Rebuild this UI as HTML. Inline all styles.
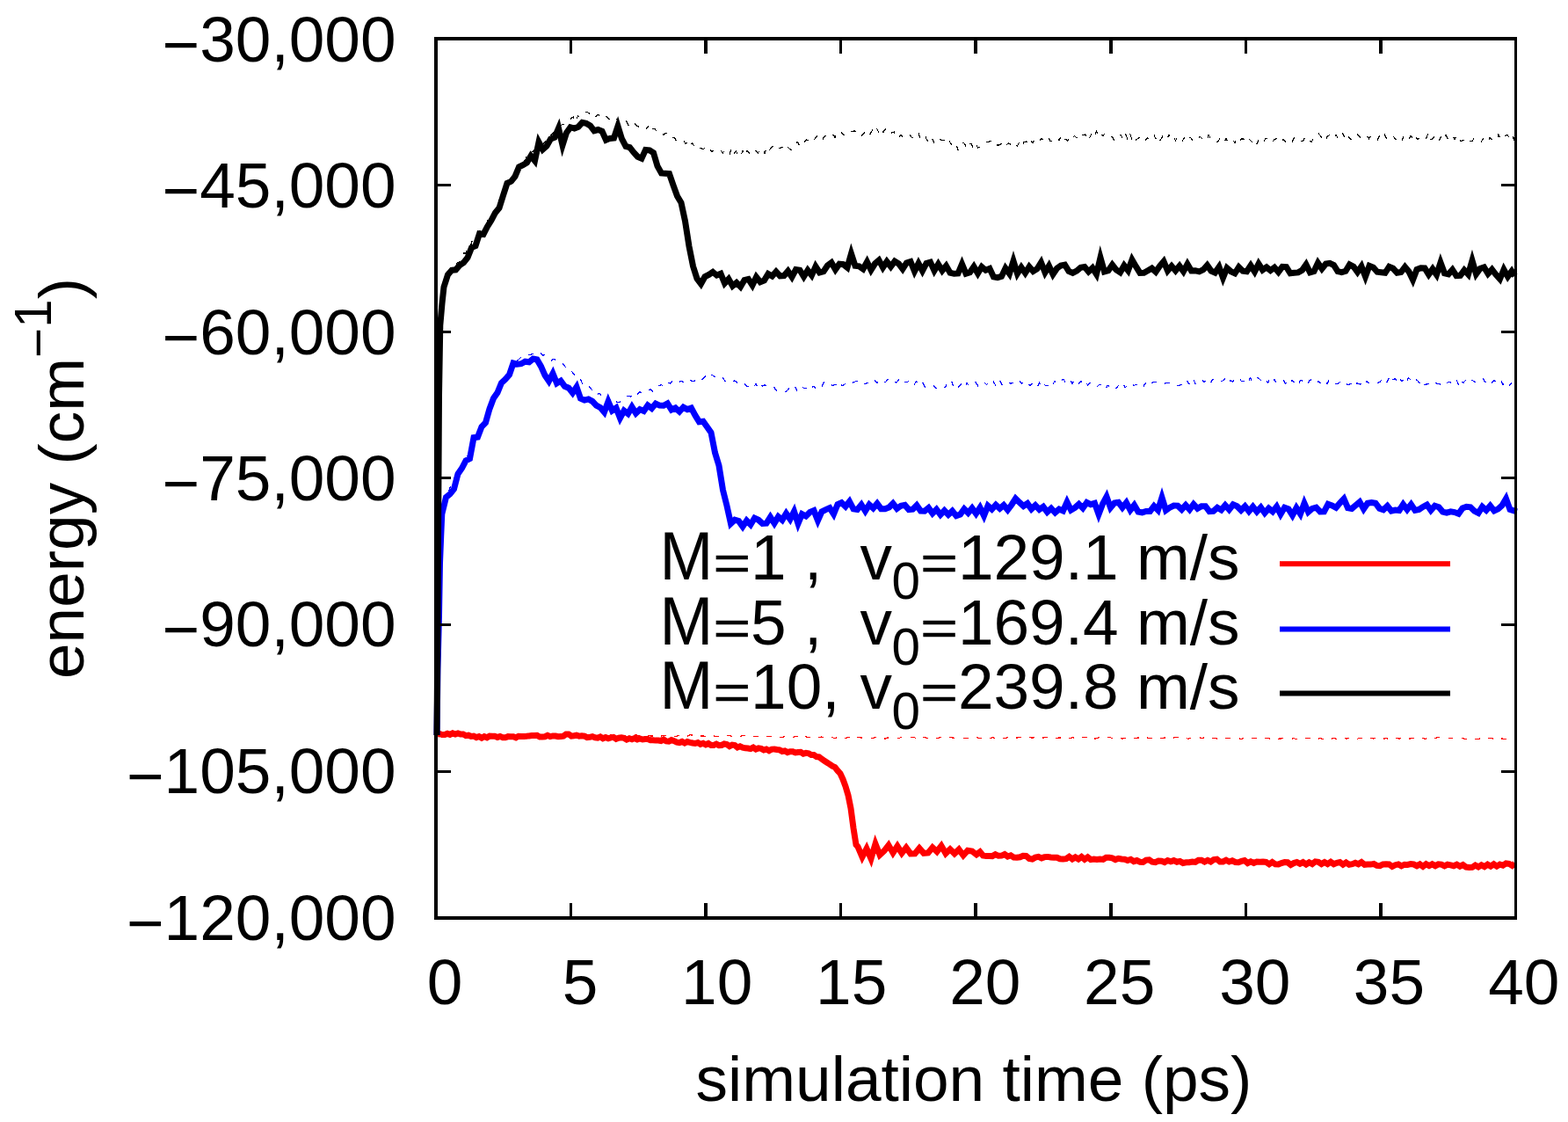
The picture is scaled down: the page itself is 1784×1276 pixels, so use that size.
<!DOCTYPE html>
<html><head><meta charset="utf-8"><title>energy vs simulation time</title><style>html,body{margin:0;padding:0;background:#fff;}svg{display:block;}</style></head><body>
<svg width="1784" height="1276" viewBox="0 0 1784 1276">
<rect width="1784" height="1276" fill="#fff"/>
<path d="M497.0 836.0 L500.0 836.0 L503.0 835.9 L506.0 836.6 L509.0 836.1 L512.0 836.1 L515.0 837.1 L518.0 836.7 L521.0 835.9 L524.0 836.7 L527.0 836.9 L530.0 836.0 L533.0 836.4 L536.0 835.6 L539.0 836.7 L542.0 835.4 L545.0 835.9 L548.0 836.7 L551.0 835.8 L554.0 835.8 L557.0 837.0 L560.0 836.4 L563.0 837.3 L566.0 836.5 L569.0 836.9 L572.0 836.2 L575.0 837.5 L578.0 836.3 L581.0 837.6 L584.0 836.6 L587.0 836.4 L590.0 836.5 L593.0 837.5 L596.0 836.2 L599.0 836.5 L602.0 836.6 L605.0 837.7 L608.0 836.6 L611.0 836.8 L614.0 836.7 L617.0 836.5 L620.0 836.3 L623.0 836.6 L626.0 837.5 L629.0 836.6 L632.0 837.4 L635.0 836.9 L638.0 836.5 L641.0 836.5 L644.0 837.2 L647.0 836.7 L650.0 837.3 L653.0 836.5 L656.0 837.1 L659.0 836.2 L662.0 837.0 L665.0 836.2 L668.0 837.0 L671.0 836.3 L674.0 836.4 L677.0 837.2 L680.0 836.3 L683.0 836.2 L686.0 836.9 L689.0 836.0 L692.0 837.1 L695.0 835.9 L698.0 837.0 L701.0 836.9 L704.0 835.9 L707.0 837.2 L710.0 836.5 L713.0 837.3 L716.0 836.2 L719.0 837.0 L722.0 836.0 L725.0 836.1 L728.0 836.9 L731.0 835.9 L734.0 837.1 L737.0 836.0 L740.0 836.9 L743.0 836.9 L746.0 837.2 L749.0 836.1 L752.0 837.0 L755.0 836.4 L758.0 836.2 L761.0 836.6 L764.0 837.2 L767.0 837.4 L770.0 837.3 L773.0 836.1 L776.0 837.1 L779.0 836.2 L782.0 837.2 L785.0 835.8 L788.0 836.1 L791.0 836.5 L794.0 837.1 L797.0 836.9 L800.0 837.0 L803.0 837.6 L806.0 836.9 L809.0 838.1 L812.0 836.9 L815.0 837.9 L818.0 837.0 L821.0 837.9 L824.0 836.8 L827.0 836.6 L830.0 836.5 L833.0 837.3 L836.0 836.5 L839.0 836.6 L842.0 837.7 L845.0 836.5 L848.0 836.9 L851.0 836.7 L854.0 837.1 L857.0 837.8 L860.0 837.1 L863.0 837.9 L866.0 837.4 L869.0 838.2 L872.0 837.8 L875.0 837.5 L878.0 837.3 L881.0 838.8 L884.0 837.6 L887.0 838.6 L890.0 838.8 L893.0 837.4 L896.0 838.6 L899.0 837.7 L902.0 838.4 L905.0 837.6 L908.0 838.1 L911.0 837.4 L914.0 838.8 L917.0 838.0 L920.0 838.7 L923.0 837.7 L926.0 838.6 L929.0 837.7 L932.0 838.7 L935.0 838.0 L938.0 839.3 L941.0 838.2 L944.0 838.5 L947.0 838.7 L950.0 839.7 L953.0 838.4 L956.0 839.3 L959.0 838.5 L962.0 839.5 L965.0 838.3 L968.0 839.5 L971.0 838.4 L974.0 839.5 L977.0 838.7 L980.0 839.0 L983.0 839.4 L986.0 840.0 L989.0 838.9 L992.0 839.6 L995.0 838.8 L998.0 838.8 L1001.0 839.8 L1004.0 839.1 L1007.0 840.2 L1010.0 838.8 L1013.0 839.8 L1016.0 839.1 L1019.0 839.6 L1022.0 839.6 L1025.0 838.7 L1028.0 838.9 L1031.0 838.5 L1034.0 839.1 L1037.0 838.4 L1040.0 838.7 L1043.0 839.6 L1046.0 838.5 L1049.0 839.5 L1052.0 838.6 L1055.0 839.6 L1058.0 838.7 L1061.0 839.3 L1064.0 838.5 L1067.0 839.5 L1070.0 838.6 L1073.0 838.7 L1076.0 839.8 L1079.0 838.8 L1082.0 838.6 L1085.0 839.2 L1088.0 839.2 L1091.0 839.2 L1094.0 838.6 L1097.0 839.8 L1100.0 839.2 L1103.0 839.8 L1106.0 839.0 L1109.0 839.4 L1112.0 838.8 L1115.0 839.5 L1118.0 839.5 L1121.0 838.5 L1124.0 839.3 L1127.0 839.2 L1130.0 838.8 L1133.0 839.7 L1136.0 838.6 L1139.0 839.8 L1142.0 839.3 L1145.0 839.2 L1148.0 838.5 L1151.0 839.1 L1154.0 838.5 L1157.0 839.0 L1160.0 838.5 L1163.0 839.2 L1166.0 838.4 L1169.0 839.3 L1172.0 838.7 L1175.0 839.2 L1178.0 838.6 L1181.0 839.1 L1184.0 838.2 L1187.0 839.2 L1190.0 838.0 L1193.0 839.1 L1196.0 838.3 L1199.0 839.4 L1202.0 839.4 L1205.0 838.9 L1208.0 839.0 L1211.0 839.9 L1214.0 838.6 L1217.0 839.8 L1220.0 838.7 L1223.0 839.3 L1226.0 839.2 L1229.0 838.2 L1232.0 839.0 L1235.0 838.1 L1238.0 839.7 L1241.0 838.7 L1244.0 839.9 L1247.0 839.9 L1250.0 838.7 L1253.0 839.5 L1256.0 838.5 L1259.0 839.0 L1262.0 838.3 L1265.0 839.4 L1268.0 839.5 L1271.0 839.8 L1274.0 838.7 L1277.0 840.1 L1280.0 839.2 L1283.0 840.1 L1286.0 839.3 L1289.0 839.2 L1292.0 839.5 L1295.0 838.8 L1298.0 839.9 L1301.0 838.9 L1304.0 838.8 L1307.0 839.4 L1310.0 839.5 L1313.0 838.8 L1316.0 839.8 L1319.0 838.9 L1322.0 839.8 L1325.0 838.8 L1328.0 839.9 L1331.0 838.5 L1334.0 839.6 L1337.0 838.4 L1340.0 838.8 L1343.0 839.8 L1346.0 839.1 L1349.0 839.4 L1352.0 840.3 L1355.0 839.1 L1358.0 840.0 L1361.0 839.4 L1364.0 838.5 L1367.0 839.6 L1370.0 839.0 L1373.0 839.6 L1376.0 839.0 L1379.0 840.0 L1382.0 839.1 L1385.0 840.3 L1388.0 840.4 L1391.0 840.2 L1394.0 839.0 L1397.0 839.8 L1400.0 839.2 L1403.0 839.8 L1406.0 839.3 L1409.0 839.3 L1412.0 840.5 L1415.0 839.4 L1418.0 840.0 L1421.0 838.8 L1424.0 839.8 L1427.0 839.0 L1430.0 839.8 L1433.0 839.3 L1436.0 840.2 L1439.0 839.6 L1442.0 839.3 L1445.0 840.3 L1448.0 839.7 L1451.0 840.6 L1454.0 840.2 L1457.0 840.0 L1460.0 839.5 L1463.0 840.3 L1466.0 840.3 L1469.0 840.2 L1472.0 839.7 L1475.0 840.6 L1478.0 839.4 L1481.0 840.0 L1484.0 840.2 L1487.0 839.2 L1490.0 839.6 L1493.0 840.5 L1496.0 839.5 L1499.0 840.2 L1502.0 839.6 L1505.0 840.5 L1508.0 839.7 L1511.0 839.5 L1514.0 840.4 L1517.0 839.4 L1520.0 840.2 L1523.0 839.0 L1526.0 840.0 L1529.0 839.3 L1532.0 840.2 L1535.0 839.1 L1538.0 840.5 L1541.0 839.4 L1544.0 840.4 L1547.0 839.3 L1550.0 840.0 L1553.0 839.1 L1556.0 840.2 L1559.0 839.0 L1562.0 840.0 L1565.0 839.7 L1568.0 838.7 L1571.0 840.1 L1574.0 840.2 L1577.0 839.6 L1580.0 840.5 L1583.0 839.2 L1586.0 840.1 L1589.0 839.0 L1592.0 840.2 L1595.0 839.0 L1598.0 840.3 L1601.0 839.2 L1604.0 840.1 L1607.0 839.5 L1610.0 840.2 L1613.0 839.5 L1616.0 840.8 L1619.0 839.6 L1622.0 840.3 L1625.0 839.0 L1628.0 840.1 L1631.0 839.9 L1634.0 839.0 L1637.0 838.8 L1640.0 838.9 L1643.0 840.1 L1646.0 839.3 L1649.0 839.7 L1652.0 839.3 L1655.0 839.3 L1658.0 839.1 L1661.0 840.1 L1664.0 839.5 L1667.0 840.3 L1670.0 840.1 L1673.0 839.5 L1676.0 840.4 L1679.0 840.5 L1682.0 840.3 L1685.0 839.5 L1688.0 840.4 L1691.0 840.2 L1694.0 839.2 L1697.0 839.3 L1700.0 840.6 L1703.0 840.2 L1706.0 840.5 L1709.0 839.9 L1712.0 840.5 L1715.0 840.6 L1718.0 839.5 L1721.0 840.3 L1723.5 839.5" fill="none" stroke="#f00" stroke-width="1.2" stroke-dasharray="6 9.5" shape-rendering="crispEdges"/>
<path d="M497.0 836.0 L498.0 700.0 L500.5 620.0 L503.0 580.0 L505.0 573.3 L507.5 567.4 L510.0 560.2 L512.5 552.7 L515.0 550.4 L517.5 541.6 L520.0 536.4 L522.5 532.4 L525.0 530.8 L527.5 524.6 L530.0 523.6 L532.5 517.5 L535.0 509.8 L537.5 505.9 L540.0 497.7 L542.5 495.5 L545.0 491.7 L547.5 487.0 L550.0 482.8 L552.5 477.4 L555.0 469.8 L557.5 466.8 L560.0 461.5 L562.5 452.7 L565.0 447.4 L567.5 442.2 L570.0 436.7 L572.5 435.9 L575.0 430.4 L577.5 427.5 L580.0 421.7 L582.5 417.5 L585.0 415.3 L587.5 411.3 L590.0 408.9 L592.5 406.7 L595.0 407.3 L597.5 405.6 L600.0 404.1 L602.5 403.3 L605.0 402.9 L607.5 402.7 L610.0 403.2 L612.5 404.2 L615.0 401.8 L617.5 404.2 L620.0 403.7 L622.5 404.8 L625.0 408.5 L627.5 409.9 L630.0 407.9 L632.5 410.1 L635.0 412.9 L637.5 413.9 L640.0 413.3 L642.5 416.1 L645.0 420.4 L647.5 422.4 L650.0 421.6 L652.5 425.0 L655.0 427.0 L657.5 431.8 L660.0 430.5 L662.5 436.2 L665.0 435.7 L667.5 439.6 L670.0 438.9 L672.5 442.3 L675.0 445.9 L677.5 444.4 L680.0 448.1 L682.5 447.2 L685.0 452.1 L687.5 453.1 L690.0 454.3 L692.5 451.9 L695.0 456.4 L697.5 453.6 L700.0 454.8 L702.5 457.8 L705.0 457.2 L707.5 455.6 L710.0 453.0 L712.5 451.7 L715.0 450.1 L717.5 451.0 L720.0 449.3 L722.5 446.2 L725.0 448.8 L727.5 445.7 L730.0 446.5 L732.5 447.0 L735.0 446.4 L737.5 445.0 L740.0 442.5 L742.5 445.0 L745.0 444.0 L747.5 439.6 L750.0 438.6 L752.5 437.5 L755.0 440.2 L757.5 435.9 L760.0 434.8 L762.5 436.2 L765.0 433.5 L767.5 432.8 L770.0 435.4 L772.5 434.8 L775.0 433.1 L777.5 434.6 L780.0 434.3 L782.5 430.6 L785.0 431.4 L787.5 433.8 L790.0 433.3 L792.5 432.0 L795.0 429.6 L797.5 431.8 L800.0 430.9 L802.5 427.8 L805.0 429.9 L807.5 426.1 L810.0 426.5 L812.5 427.7 L815.0 430.1 L817.5 429.6 L820.0 431.4 L822.5 429.4 L825.0 433.9 L827.5 434.3 L830.0 435.2 L832.5 435.4 L835.0 432.9 L837.5 433.8 L840.0 436.5 L842.5 437.6 L845.0 436.1 L847.5 436.6 L850.0 439.6 L852.5 439.5 L855.0 437.6 L857.5 440.8 L860.0 436.4 L862.5 442.0 L865.0 438.1 L867.5 438.9 L870.0 437.9 L872.5 438.6 L875.0 438.2 L877.5 437.7 L880.0 438.4 L882.5 443.7 L885.0 444.3 L887.5 444.7 L890.0 445.6 L892.5 445.2 L895.0 445.0 L897.5 442.3 L900.0 445.1 L902.5 442.1 L905.0 440.6 L907.5 445.9 L910.0 442.4 L912.5 439.5 L915.0 441.8 L917.5 441.5 L920.0 440.9 L922.5 444.1 L925.0 439.1 L927.5 440.8 L930.0 437.3 L932.5 440.0 L935.0 439.4 L937.5 434.6 L940.0 437.6 L942.5 438.6 L945.0 437.7 L947.5 438.2 L950.0 437.4 L952.5 438.6 L955.0 434.5 L957.5 438.3 L960.0 438.0 L962.5 435.7 L965.0 433.9 L967.5 434.3 L970.0 435.4 L972.5 434.2 L975.0 433.3 L977.5 434.8 L980.0 437.9 L982.5 436.1 L985.0 436.2 L987.5 435.6 L990.0 432.5 L992.5 434.3 L995.0 431.8 L997.5 435.5 L1000.0 434.3 L1002.5 431.5 L1005.0 432.5 L1007.5 434.6 L1010.0 431.7 L1012.5 431.1 L1015.0 434.5 L1017.5 433.8 L1020.0 435.1 L1022.5 432.2 L1025.0 435.9 L1027.5 432.8 L1030.0 434.8 L1032.5 434.7 L1035.0 432.0 L1037.5 437.0 L1040.0 437.3 L1042.5 433.8 L1045.0 437.3 L1047.5 438.7 L1050.0 435.6 L1052.5 440.1 L1055.0 440.8 L1057.5 439.4 L1060.0 438.8 L1062.5 438.5 L1065.0 441.9 L1067.5 441.1 L1070.0 438.1 L1072.5 438.8 L1075.0 441.0 L1077.5 436.7 L1080.0 437.7 L1082.5 433.0 L1085.0 440.6 L1087.5 437.3 L1090.0 440.9 L1092.5 437.8 L1095.0 435.7 L1097.5 440.1 L1100.0 435.6 L1102.5 438.7 L1105.0 438.0 L1107.5 438.4 L1110.0 434.6 L1112.5 438.6 L1115.0 434.7 L1117.5 434.4 L1120.0 434.7 L1122.5 437.6 L1125.0 434.9 L1127.5 437.4 L1130.0 433.3 L1132.5 438.0 L1135.0 430.9 L1137.5 432.4 L1140.0 437.2 L1142.5 436.0 L1145.0 436.2 L1147.5 433.8 L1150.0 436.2 L1152.5 435.5 L1155.0 432.4 L1157.5 435.5 L1160.0 433.2 L1162.5 436.4 L1165.0 433.1 L1167.5 434.5 L1170.0 437.7 L1172.5 438.3 L1175.0 435.1 L1177.5 435.7 L1180.0 440.3 L1182.5 435.5 L1185.0 440.2 L1187.5 436.2 L1190.0 439.0 L1192.5 438.4 L1195.0 434.4 L1197.5 437.8 L1200.0 433.0 L1202.5 436.7 L1205.0 435.7 L1207.5 432.5 L1210.0 431.5 L1212.5 435.0 L1215.0 432.3 L1217.5 431.4 L1220.0 436.5 L1222.5 432.0 L1225.0 436.7 L1227.5 436.3 L1230.0 433.4 L1232.5 436.8 L1235.0 433.9 L1237.5 437.9 L1240.0 435.8 L1242.5 439.0 L1245.0 440.2 L1247.5 440.6 L1250.0 437.9 L1252.5 437.6 L1255.0 438.8 L1257.5 443.4 L1260.0 438.1 L1262.5 439.5 L1265.0 442.9 L1267.5 441.0 L1270.0 441.6 L1272.5 438.3 L1275.0 440.1 L1277.5 436.0 L1280.0 440.7 L1282.5 438.7 L1285.0 434.8 L1287.5 434.5 L1290.0 438.4 L1292.5 437.5 L1295.0 437.3 L1297.5 438.1 L1300.0 441.0 L1302.5 436.9 L1305.0 434.0 L1307.5 437.9 L1310.0 435.6 L1312.5 434.5 L1315.0 434.3 L1317.5 435.5 L1320.0 436.4 L1322.5 436.5 L1325.0 436.1 L1327.5 435.5 L1330.0 435.9 L1332.5 435.0 L1335.0 438.4 L1337.5 438.2 L1340.0 438.6 L1342.5 437.9 L1345.0 436.8 L1347.5 434.1 L1350.0 431.3 L1352.5 436.3 L1355.0 436.4 L1357.5 430.0 L1360.0 436.7 L1362.5 432.8 L1365.0 433.0 L1367.5 432.0 L1370.0 434.9 L1372.5 430.9 L1375.0 434.3 L1377.5 435.6 L1380.0 430.9 L1382.5 433.8 L1385.0 433.1 L1387.5 433.5 L1390.0 433.3 L1392.5 432.6 L1395.0 428.6 L1397.5 433.9 L1400.0 432.7 L1402.5 434.0 L1405.0 430.0 L1407.5 430.2 L1410.0 430.6 L1412.5 433.7 L1415.0 433.7 L1417.5 430.0 L1420.0 433.9 L1422.5 429.9 L1425.0 434.2 L1427.5 430.6 L1430.0 429.8 L1432.5 430.2 L1435.0 433.4 L1437.5 434.3 L1440.0 430.9 L1442.5 435.3 L1445.0 430.8 L1447.5 435.1 L1450.0 431.5 L1452.5 436.0 L1455.0 435.5 L1457.5 432.8 L1460.0 432.4 L1462.5 435.9 L1465.0 432.8 L1467.5 436.2 L1470.0 432.0 L1472.5 435.3 L1475.0 432.1 L1477.5 436.1 L1480.0 432.3 L1482.5 433.7 L1485.0 437.1 L1487.5 437.3 L1490.0 432.7 L1492.5 431.6 L1495.0 433.4 L1497.5 436.4 L1500.0 432.9 L1502.5 436.4 L1505.0 433.9 L1507.5 432.7 L1510.0 436.6 L1512.5 431.7 L1515.0 433.4 L1517.5 433.9 L1520.0 436.3 L1522.5 436.2 L1525.0 434.3 L1527.5 437.1 L1530.0 435.5 L1532.5 437.0 L1535.0 437.3 L1537.5 436.5 L1540.0 432.4 L1542.5 435.8 L1545.0 436.1 L1547.5 437.1 L1550.0 434.1 L1552.5 437.4 L1555.0 433.0 L1557.5 436.3 L1560.0 436.2 L1562.5 436.1 L1565.0 435.3 L1567.5 435.4 L1570.0 434.4 L1572.5 430.9 L1575.0 435.5 L1577.5 435.6 L1580.0 430.2 L1582.5 435.5 L1585.0 431.3 L1587.5 430.8 L1590.0 434.5 L1592.5 429.5 L1595.0 434.1 L1597.5 429.9 L1600.0 434.3 L1602.5 430.0 L1605.0 431.5 L1607.5 435.0 L1610.0 431.1 L1612.5 432.6 L1615.0 435.3 L1617.5 432.3 L1620.0 437.7 L1622.5 437.1 L1625.0 436.8 L1627.5 433.8 L1630.0 433.9 L1632.5 433.8 L1635.0 436.2 L1637.5 436.6 L1640.0 437.9 L1642.5 437.3 L1645.0 438.1 L1647.5 434.1 L1650.0 434.1 L1652.5 437.4 L1655.0 433.5 L1657.5 432.6 L1660.0 439.5 L1662.5 433.2 L1665.0 435.3 L1667.5 432.4 L1670.0 435.8 L1672.5 432.4 L1675.0 432.2 L1677.5 434.2 L1680.0 434.1 L1682.5 431.6 L1685.0 431.0 L1687.5 430.8 L1690.0 434.8 L1692.5 432.0 L1695.0 431.4 L1697.5 434.9 L1700.0 432.1 L1702.5 435.3 L1705.0 436.0 L1707.5 432.8 L1710.0 437.7 L1712.5 433.7 L1715.0 434.2 L1717.5 438.5 L1720.0 435.1 L1722.5 439.5 L1723.5 439.6" fill="none" stroke="#00f" stroke-width="1.2" stroke-dasharray="6 9.5" shape-rendering="crispEdges"/>
<path d="M497.0 836.0 L498.0 600.0 L500.0 380.0 L503.0 330.0 L505.0 316.9 L507.5 314.6 L510.0 309.5 L512.5 306.8 L515.0 307.6 L517.5 304.1 L520.0 298.9 L522.5 297.9 L525.0 294.1 L527.5 287.9 L530.0 288.1 L532.5 280.6 L535.0 281.0 L537.5 273.0 L540.0 269.3 L542.5 268.9 L545.0 263.7 L547.5 261.0 L550.0 257.9 L552.5 257.5 L555.0 250.5 L557.5 248.0 L560.0 247.0 L562.5 239.9 L565.0 236.1 L567.5 228.9 L570.0 223.5 L572.5 215.3 L575.0 213.8 L577.5 206.5 L580.0 209.1 L582.5 200.8 L585.0 200.2 L587.5 192.5 L590.0 190.6 L592.5 185.7 L595.0 183.2 L597.5 182.6 L600.0 176.3 L602.5 176.0 L605.0 173.9 L607.5 170.8 L610.0 170.0 L612.5 164.8 L615.0 165.7 L617.5 164.1 L620.0 161.3 L622.5 157.1 L625.0 153.8 L627.5 153.0 L630.0 150.7 L632.5 149.9 L635.0 148.5 L637.5 143.5 L640.0 141.1 L642.5 141.8 L645.0 138.9 L647.5 138.0 L650.0 134.3 L652.5 133.1 L655.0 139.1 L657.5 131.6 L660.0 133.8 L662.5 132.5 L665.0 128.3 L667.5 127.3 L670.0 128.4 L672.5 131.6 L675.0 129.4 L677.5 132.6 L680.0 130.6 L682.5 131.2 L685.0 132.0 L687.5 134.9 L690.0 132.1 L692.5 135.4 L695.0 137.1 L697.5 137.4 L700.0 134.8 L702.5 135.6 L705.0 139.8 L707.5 136.1 L710.0 137.6 L712.5 137.4 L715.0 142.2 L717.5 139.5 L720.0 141.9 L722.5 141.0 L725.0 143.3 L727.5 144.3 L730.0 142.7 L732.5 146.1 L735.0 146.5 L737.5 143.7 L740.0 150.2 L742.5 146.6 L745.0 146.3 L747.5 150.4 L750.0 148.9 L752.5 152.1 L755.0 153.3 L757.5 151.3 L760.0 152.6 L762.5 156.6 L765.0 155.8 L767.5 157.1 L770.0 160.6 L772.5 158.6 L775.0 159.0 L777.5 160.0 L780.0 163.4 L782.5 161.0 L785.0 166.2 L787.5 162.6 L790.0 166.5 L792.5 170.5 L795.0 168.3 L797.5 168.7 L800.0 169.4 L802.5 168.4 L805.0 171.3 L807.5 169.0 L810.0 173.0 L812.5 169.4 L815.0 171.1 L817.5 171.0 L820.0 171.0 L822.5 173.8 L825.0 170.6 L827.5 174.3 L830.0 176.0 L832.5 168.1 L835.0 174.6 L837.5 172.3 L840.0 176.5 L842.5 178.8 L845.0 171.0 L847.5 177.3 L850.0 171.4 L852.5 174.1 L855.0 175.8 L857.5 175.8 L860.0 171.3 L862.5 173.7 L865.0 170.3 L867.5 168.5 L870.0 174.3 L872.5 167.7 L875.0 171.8 L877.5 167.5 L880.0 166.3 L882.5 170.5 L885.0 170.0 L887.5 168.4 L890.0 167.1 L892.5 169.3 L895.0 164.8 L897.5 168.6 L900.0 170.4 L902.5 169.6 L905.0 163.0 L907.5 161.5 L910.0 166.9 L912.5 162.1 L915.0 161.3 L917.5 158.9 L920.0 159.6 L922.5 162.3 L925.0 161.8 L927.5 157.2 L930.0 154.8 L932.5 155.3 L935.0 160.1 L937.5 155.8 L940.0 154.0 L942.5 152.8 L945.0 151.3 L947.5 152.4 L950.0 156.3 L952.5 149.9 L955.0 151.6 L957.5 150.9 L960.0 153.6 L962.5 154.7 L965.0 151.2 L967.5 150.8 L970.0 149.2 L972.5 149.0 L975.0 150.2 L977.5 149.4 L980.0 154.6 L982.5 152.2 L985.0 147.4 L987.5 151.4 L990.0 152.6 L992.5 148.1 L995.0 151.3 L997.5 146.2 L1000.0 151.0 L1002.5 145.7 L1005.0 150.3 L1007.5 146.7 L1010.0 152.6 L1012.5 151.8 L1015.0 150.8 L1017.5 150.0 L1020.0 155.8 L1022.5 157.3 L1025.0 153.0 L1027.5 155.9 L1030.0 156.9 L1032.5 154.4 L1035.0 153.1 L1037.5 156.5 L1040.0 155.8 L1042.5 156.4 L1045.0 151.4 L1047.5 158.3 L1050.0 153.9 L1052.5 154.8 L1055.0 159.9 L1057.5 160.5 L1060.0 155.4 L1062.5 162.2 L1065.0 157.2 L1067.5 159.2 L1070.0 158.7 L1072.5 159.6 L1075.0 159.0 L1077.5 163.8 L1080.0 160.3 L1082.5 164.4 L1085.0 165.3 L1087.5 162.1 L1090.0 170.7 L1092.5 166.3 L1095.0 162.1 L1097.5 163.2 L1100.0 169.1 L1102.5 164.1 L1105.0 163.7 L1107.5 168.4 L1110.0 162.6 L1112.5 168.2 L1115.0 167.4 L1117.5 164.2 L1120.0 162.9 L1122.5 161.3 L1125.0 161.3 L1127.5 160.1 L1130.0 160.1 L1132.5 164.9 L1135.0 165.0 L1137.5 164.9 L1140.0 162.8 L1142.5 167.1 L1145.0 165.1 L1147.5 162.7 L1150.0 164.3 L1152.5 164.7 L1155.0 162.0 L1157.5 166.2 L1160.0 161.2 L1162.5 166.1 L1165.0 161.4 L1167.5 161.0 L1170.0 165.0 L1172.5 160.2 L1175.0 162.7 L1177.5 157.8 L1180.0 157.3 L1182.5 160.5 L1185.0 157.5 L1187.5 159.4 L1190.0 158.6 L1192.5 155.2 L1195.0 160.6 L1197.5 160.2 L1200.0 158.0 L1202.5 155.8 L1205.0 159.7 L1207.5 153.6 L1210.0 158.0 L1212.5 158.5 L1215.0 160.1 L1217.5 154.9 L1220.0 157.6 L1222.5 154.4 L1225.0 156.8 L1227.5 158.8 L1230.0 154.1 L1232.5 153.4 L1235.0 152.9 L1237.5 160.4 L1240.0 155.9 L1242.5 151.0 L1245.0 156.0 L1247.5 149.6 L1250.0 154.6 L1252.5 151.0 L1255.0 154.8 L1257.5 150.7 L1260.0 154.0 L1262.5 154.5 L1265.0 155.3 L1267.5 159.1 L1270.0 157.8 L1272.5 158.0 L1275.0 152.9 L1277.5 158.3 L1280.0 151.5 L1282.5 157.1 L1285.0 149.8 L1287.5 157.5 L1290.0 153.5 L1292.5 159.0 L1295.0 157.5 L1297.5 154.9 L1300.0 158.2 L1302.5 160.9 L1305.0 156.9 L1307.5 157.6 L1310.0 157.0 L1312.5 152.7 L1315.0 158.0 L1317.5 153.7 L1320.0 159.6 L1322.5 155.6 L1325.0 159.5 L1327.5 158.9 L1330.0 153.1 L1332.5 157.6 L1335.0 154.4 L1337.5 160.0 L1340.0 155.5 L1342.5 159.8 L1345.0 160.8 L1347.5 156.7 L1350.0 159.8 L1352.5 155.4 L1355.0 157.0 L1357.5 160.8 L1360.0 161.8 L1362.5 159.5 L1365.0 155.2 L1367.5 157.5 L1370.0 159.9 L1372.5 160.2 L1375.0 153.8 L1377.5 156.9 L1380.0 158.1 L1382.5 158.3 L1385.0 161.7 L1387.5 158.3 L1390.0 162.1 L1392.5 162.9 L1395.0 157.2 L1397.5 162.5 L1400.0 162.6 L1402.5 159.3 L1405.0 162.3 L1407.5 157.4 L1410.0 161.4 L1412.5 158.0 L1415.0 158.1 L1417.5 161.4 L1420.0 157.5 L1422.5 159.3 L1425.0 162.1 L1427.5 157.9 L1430.0 163.6 L1432.5 157.7 L1435.0 161.3 L1437.5 162.1 L1440.0 157.2 L1442.5 157.8 L1445.0 158.6 L1447.5 162.4 L1450.0 158.6 L1452.5 157.8 L1455.0 157.6 L1457.5 161.6 L1460.0 158.4 L1462.5 161.1 L1465.0 157.9 L1467.5 160.7 L1470.0 161.4 L1472.5 156.9 L1475.0 160.0 L1477.5 158.7 L1480.0 160.1 L1482.5 160.8 L1485.0 155.1 L1487.5 157.4 L1490.0 160.7 L1492.5 161.2 L1495.0 155.3 L1497.5 153.0 L1500.0 151.8 L1502.5 154.5 L1505.0 160.4 L1507.5 160.3 L1510.0 155.2 L1512.5 153.7 L1515.0 153.5 L1517.5 157.4 L1520.0 153.3 L1522.5 157.7 L1525.0 151.5 L1527.5 151.2 L1530.0 157.1 L1532.5 152.5 L1535.0 156.5 L1537.5 158.7 L1540.0 158.4 L1542.5 152.4 L1545.0 153.1 L1547.5 156.3 L1550.0 155.5 L1552.5 153.3 L1555.0 153.6 L1557.5 157.6 L1560.0 153.9 L1562.5 154.8 L1565.0 157.2 L1567.5 158.9 L1570.0 153.3 L1572.5 155.8 L1575.0 152.1 L1577.5 157.4 L1580.0 157.7 L1582.5 158.1 L1585.0 154.4 L1587.5 158.5 L1590.0 157.8 L1592.5 155.3 L1595.0 160.0 L1597.5 153.9 L1600.0 155.6 L1602.5 158.8 L1605.0 154.8 L1607.5 156.6 L1610.0 152.1 L1612.5 158.5 L1615.0 157.0 L1617.5 156.7 L1620.0 155.0 L1622.5 158.3 L1625.0 151.3 L1627.5 159.1 L1630.0 157.9 L1632.5 153.9 L1635.0 159.6 L1637.5 159.7 L1640.0 154.3 L1642.5 158.6 L1645.0 153.8 L1647.5 158.1 L1650.0 155.2 L1652.5 153.8 L1655.0 158.5 L1657.5 153.5 L1660.0 159.3 L1662.5 160.8 L1665.0 159.1 L1667.5 157.8 L1670.0 156.5 L1672.5 160.3 L1675.0 160.3 L1677.5 157.1 L1680.0 159.4 L1682.5 160.9 L1685.0 161.7 L1687.5 157.5 L1690.0 160.3 L1692.5 161.9 L1695.0 156.3 L1697.5 158.9 L1700.0 159.0 L1702.5 159.7 L1705.0 152.9 L1707.5 158.6 L1710.0 157.9 L1712.5 154.5 L1715.0 153.6 L1717.5 157.4 L1720.0 152.9 L1722.5 158.8 L1723.5 153.2" fill="none" stroke="#000" stroke-width="1.2" stroke-dasharray="6 9.5" shape-rendering="crispEdges"/>
<path d="M497.0 836.0 L498.4 835.0 L500.0 834.5 L503.0 835.5 L506.0 835.5 L509.0 834.3 L512.0 835.4 L515.0 833.9 L518.0 835.0 L521.0 833.9 L524.0 835.1 L527.0 835.0 L530.0 836.6 L533.0 836.2 L536.0 837.5 L539.0 837.1 L542.0 838.6 L545.0 837.5 L548.0 839.3 L551.0 837.6 L554.0 838.8 L557.0 837.1 L560.0 837.3 L563.0 837.2 L566.0 838.4 L569.0 837.4 L572.0 838.7 L575.0 838.7 L578.0 837.6 L581.0 837.7 L584.0 837.7 L587.0 838.8 L590.0 837.2 L593.0 837.4 L596.0 837.6 L599.0 837.3 L602.0 836.9 L605.0 836.6 L608.0 836.4 L611.0 836.3 L614.0 838.0 L617.0 837.9 L620.0 837.7 L623.0 836.3 L626.0 837.6 L629.0 836.9 L632.0 837.0 L635.0 837.7 L638.0 837.6 L641.0 837.1 L644.0 835.0 L647.0 835.0 L650.0 837.1 L653.0 836.7 L656.0 836.1 L659.0 837.2 L662.0 836.7 L665.0 837.1 L668.0 838.6 L671.0 838.4 L674.0 837.6 L677.0 838.8 L680.0 839.2 L683.0 838.0 L686.0 839.8 L689.0 838.6 L692.0 839.8 L695.0 838.9 L698.0 838.4 L701.0 840.3 L704.0 839.3 L707.0 838.9 L710.0 839.4 L713.0 841.1 L716.0 839.8 L719.0 840.8 L722.0 839.6 L725.0 841.0 L728.0 840.0 L731.0 841.0 L734.0 840.5 L737.0 840.5 L740.0 841.7 L743.0 841.7 L746.0 842.1 L749.0 842.0 L752.0 842.5 L755.0 841.0 L758.0 842.9 L761.0 843.2 L764.0 841.6 L767.0 842.7 L770.0 844.2 L773.0 844.6 L776.0 843.4 L779.0 845.1 L782.0 843.5 L785.0 844.3 L788.0 845.0 L791.0 845.5 L794.0 844.5 L797.0 846.3 L800.0 845.3 L803.0 846.8 L806.0 845.5 L809.0 847.4 L812.0 847.4 L815.0 846.1 L818.0 847.6 L821.0 847.5 L824.0 846.0 L827.0 846.6 L830.0 848.6 L833.0 847.1 L836.0 847.5 L839.0 849.9 L842.0 848.7 L845.0 850.1 L848.0 850.8 L851.0 851.0 L854.0 851.6 L857.0 850.0 L860.0 852.0 L863.0 850.9 L866.0 851.4 L869.0 852.9 L872.0 852.0 L875.0 853.7 L878.0 852.1 L881.0 852.0 L884.0 852.5 L887.0 852.9 L890.0 854.5 L893.0 853.9 L896.0 855.6 L899.0 854.7 L902.0 854.7 L905.0 856.0 L908.0 855.5 L911.0 855.3 L914.0 857.2 L917.0 856.4 L920.0 856.8 L923.0 858.6 L926.0 858.6 L929.0 860.6 L932.0 860.9 L935.0 863.2 L938.0 865.3 L941.0 867.2 L944.0 869.1 L947.0 871.2 L950.0 872.5 L953.0 876.4 L956.0 879.7 L959.0 886.2 L962.0 894.3 L965.0 904.4 L968.0 919.4 L971.0 941.8 L974.0 960.7 L976.0 962.9 L981.0 974.6 L986.0 965.1 L991.0 976.5 L996.0 959.7 L1001.0 972.3 L1006.0 967.7 L1011.0 961.3 L1016.0 969.9 L1021.0 962.3 L1026.0 970.2 L1031.0 964.0 L1036.0 970.9 L1041.0 970.8 L1046.0 964.7 L1051.0 970.4 L1056.0 970.0 L1061.0 963.8 L1066.0 968.5 L1071.0 962.0 L1076.0 970.6 L1081.0 965.8 L1086.0 970.8 L1091.0 966.1 L1096.0 972.8 L1101.0 967.2 L1106.0 968.0 L1111.0 971.9 L1115.0 968.9 L1118.5 973.1 L1122.0 973.6 L1125.5 973.5 L1129.0 973.6 L1132.5 971.6 L1136.0 973.3 L1139.5 973.1 L1143.0 971.6 L1146.5 974.0 L1150.0 972.8 L1153.5 975.1 L1157.0 975.3 L1160.5 974.8 L1164.0 973.3 L1167.5 973.4 L1171.0 976.4 L1174.5 977.1 L1178.0 975.1 L1181.5 974.4 L1185.0 975.9 L1188.5 974.6 L1192.0 974.4 L1195.5 974.9 L1199.0 975.2 L1202.5 975.3 L1206.0 976.8 L1209.5 977.1 L1213.0 976.7 L1216.5 974.3 L1220.0 977.0 L1223.5 974.9 L1227.0 977.0 L1230.5 974.4 L1234.0 977.3 L1237.5 974.8 L1241.0 977.6 L1244.5 977.1 L1248.0 977.5 L1251.5 977.1 L1255.0 977.5 L1258.5 975.2 L1262.0 975.3 L1265.5 975.9 L1269.0 977.6 L1272.5 976.3 L1276.0 977.0 L1279.5 977.2 L1283.0 978.5 L1286.5 977.3 L1290.0 979.7 L1293.5 978.6 L1297.0 980.2 L1300.5 980.4 L1304.0 978.1 L1307.5 977.9 L1311.0 980.1 L1314.5 980.7 L1318.0 979.0 L1321.5 979.2 L1325.0 980.6 L1328.5 978.5 L1332.0 979.8 L1335.5 978.6 L1339.0 980.2 L1342.5 979.4 L1346.0 981.5 L1349.5 980.8 L1353.0 980.7 L1356.5 980.0 L1360.0 980.4 L1363.5 978.3 L1367.0 978.2 L1370.5 980.1 L1374.0 978.4 L1377.5 980.0 L1381.0 977.6 L1384.5 977.1 L1388.0 979.9 L1391.5 979.9 L1395.0 978.1 L1398.5 980.0 L1402.0 978.8 L1405.5 980.5 L1409.0 980.7 L1412.5 979.4 L1416.0 978.6 L1419.5 981.5 L1423.0 979.8 L1426.5 981.5 L1430.0 980.0 L1433.5 980.2 L1437.0 980.1 L1440.5 980.4 L1444.0 982.8 L1447.5 980.4 L1451.0 982.8 L1454.5 983.0 L1458.0 981.5 L1461.5 980.6 L1465.0 980.8 L1468.5 983.5 L1472.0 981.6 L1475.5 980.5 L1479.0 982.4 L1482.5 980.6 L1486.0 983.0 L1489.5 980.7 L1493.0 982.5 L1496.5 979.8 L1500.0 980.3 L1503.5 982.6 L1507.0 980.5 L1510.5 982.6 L1514.0 980.2 L1517.5 982.7 L1521.0 981.3 L1524.5 980.5 L1528.0 983.2 L1531.5 980.9 L1535.0 983.3 L1538.5 982.7 L1542.0 981.3 L1545.5 982.8 L1549.0 980.6 L1552.5 983.3 L1556.0 983.0 L1559.5 983.1 L1563.0 982.4 L1566.5 984.4 L1570.0 984.7 L1573.5 982.9 L1577.0 982.8 L1580.5 982.9 L1584.0 985.5 L1587.5 983.7 L1591.0 982.9 L1594.5 984.9 L1598.0 983.2 L1601.5 983.5 L1605.0 982.6 L1608.5 983.0 L1612.0 984.7 L1615.5 982.8 L1619.0 985.3 L1622.5 982.7 L1626.0 984.6 L1629.5 982.8 L1633.0 984.7 L1636.5 982.8 L1640.0 983.1 L1643.5 984.9 L1647.0 983.1 L1650.5 983.8 L1654.0 984.7 L1657.5 983.1 L1661.0 985.2 L1664.5 983.6 L1668.0 986.1 L1671.5 986.4 L1675.0 986.3 L1678.5 984.0 L1682.0 985.9 L1685.5 983.8 L1689.0 985.6 L1692.5 983.2 L1696.0 985.1 L1699.5 982.8 L1703.0 985.2 L1706.5 983.1 L1710.0 984.1 L1713.5 981.9 L1717.0 982.3 L1720.5 984.4 L1723.5 981.9" fill="none" stroke="#f00" stroke-width="7" stroke-linejoin="miter" stroke-miterlimit="4"/>
<path d="M497.0 836.0 L498.0 760.0 L499.5 700.0 L500.5 640.0 L501.7 610.0 L502.8 584.5 L503.0 583.9 L507.5 565.5 L512.0 561.9 L516.5 556.1 L521.0 538.9 L525.5 532.5 L530.0 523.8 L534.5 521.7 L539.0 497.7 L543.5 497.0 L548.0 485.3 L552.5 480.6 L557.0 464.9 L561.5 453.0 L566.0 446.5 L570.5 435.5 L575.0 431.2 L579.5 426.1 L584.0 413.0 L588.5 414.1 L593.0 413.7 L597.5 411.2 L602.0 411.8 L606.5 408.0 L611.0 408.9 L615.5 416.7 L620.0 426.8 L624.5 433.4 L629.0 424.8 L633.5 435.9 L638.0 433.1 L642.5 439.3 L647.0 441.2 L651.5 446.9 L656.0 440.1 L660.5 453.2 L665.0 455.1 L669.5 453.9 L674.0 456.4 L678.5 461.1 L683.0 463.5 L687.5 468.7 L692.0 456.6 L696.5 466.9 L701.0 463.9 L705.5 475.5 L710.0 467.1 L714.5 470.6 L719.0 462.8 L723.5 469.9 L728.0 465.6 L732.5 467.5 L737.0 461.0 L741.5 464.4 L746.0 459.1 L750.5 461.1 L755.0 461.3 L759.5 458.8 L764.0 466.0 L768.5 463.9 L773.0 468.0 L777.5 463.1 L782.0 465.6 L786.5 464.0 L791.0 472.4 L795.5 479.7 L800.0 479.2 L804.5 485.6 L809.0 491.9 L813.5 514.8 L818.0 529.6 L822.5 557.4 L827.0 575.2 L831.5 595.4 L836.0 591.2 L840.5 592.6 L845.0 598.9 L849.5 592.1 L854.0 596.7 L858.5 589.3 L863.0 591.3 L867.5 595.4 L872.0 595.2 L876.5 588.1 L881.0 595.1 L885.5 587.6 L890.0 591.4 L894.5 584.0 L899.0 590.5 L903.5 581.6 L908.0 595.4 L912.5 584.6 L917.0 587.0 L921.5 582.5 L926.0 580.6 L930.5 591.9 L935.0 581.8 L939.5 579.6 L944.0 577.6 L948.5 584.7 L953.0 573.7 L957.5 571.7 L962.0 576.0 L966.5 570.4 L971.0 578.8 L975.5 579.4 L980.0 573.9 L984.5 581.1 L989.0 573.9 L993.5 578.0 L998.0 572.6 L1002.5 578.7 L1007.0 578.8 L1011.5 577.0 L1016.0 572.5 L1020.5 578.4 L1025.0 575.2 L1029.5 574.4 L1034.0 579.6 L1038.5 579.2 L1043.0 574.7 L1047.5 581.0 L1052.0 581.2 L1056.5 577.6 L1061.0 583.9 L1065.5 579.3 L1070.0 585.3 L1074.5 580.5 L1079.0 585.3 L1083.5 581.1 L1088.0 586.7 L1092.5 585.0 L1097.0 578.8 L1101.5 583.3 L1106.0 577.9 L1110.5 584.1 L1115.0 577.3 L1119.5 586.5 L1124.0 575.2 L1128.5 579.1 L1133.0 574.2 L1137.5 578.4 L1142.0 574.5 L1146.5 579.9 L1151.0 574.0 L1155.5 567.0 L1160.0 571.4 L1164.5 575.5 L1169.0 572.6 L1173.5 578.9 L1178.0 574.6 L1182.5 579.4 L1187.0 576.3 L1191.5 582.3 L1196.0 578.1 L1200.5 583.0 L1205.0 579.1 L1209.5 581.0 L1214.0 571.0 L1218.5 580.1 L1223.0 577.4 L1227.5 573.4 L1232.0 577.9 L1236.5 571.5 L1241.0 573.7 L1245.5 572.3 L1250.0 584.9 L1254.5 573.2 L1259.0 564.9 L1263.5 577.4 L1268.0 572.0 L1272.5 571.3 L1277.0 577.2 L1281.5 571.6 L1286.0 580.1 L1290.5 574.5 L1295.0 582.1 L1299.5 582.8 L1304.0 581.4 L1308.5 581.4 L1313.0 575.5 L1317.5 580.1 L1322.0 565.8 L1326.5 580.3 L1331.0 577.2 L1335.5 575.0 L1340.0 575.1 L1344.5 579.4 L1349.0 574.5 L1353.5 579.5 L1358.0 573.4 L1362.5 578.3 L1367.0 575.8 L1371.5 575.7 L1376.0 581.7 L1380.5 581.4 L1385.0 577.3 L1389.5 580.0 L1394.0 574.5 L1398.5 579.5 L1403.0 573.8 L1407.5 575.7 L1412.0 580.3 L1416.5 575.7 L1421.0 581.5 L1425.5 576.3 L1430.0 581.9 L1434.5 577.0 L1439.0 583.4 L1443.5 578.2 L1448.0 581.8 L1452.5 576.1 L1457.0 584.8 L1461.5 577.2 L1466.0 578.9 L1470.5 586.0 L1475.0 577.6 L1479.5 584.5 L1484.0 572.2 L1488.5 582.3 L1493.0 578.4 L1497.5 577.1 L1502.0 581.9 L1506.5 581.8 L1511.0 573.3 L1515.5 575.0 L1520.0 577.3 L1524.5 572.0 L1529.0 567.2 L1533.5 577.6 L1538.0 578.5 L1542.5 574.6 L1547.0 570.8 L1551.5 578.8 L1556.0 572.2 L1560.5 571.5 L1565.0 572.2 L1569.5 578.2 L1574.0 579.8 L1578.5 575.5 L1583.0 581.0 L1587.5 580.0 L1592.0 580.5 L1596.5 573.6 L1601.0 579.5 L1605.5 573.7 L1610.0 580.4 L1614.5 579.4 L1619.0 576.4 L1623.5 574.0 L1628.0 580.4 L1632.5 575.3 L1637.0 576.8 L1641.5 582.1 L1646.0 583.1 L1650.5 581.9 L1655.0 582.6 L1659.5 584.3 L1664.0 577.9 L1668.5 576.3 L1673.0 576.8 L1677.5 581.2 L1682.0 583.4 L1686.5 576.3 L1691.0 580.3 L1695.5 575.2 L1700.0 580.9 L1704.5 578.9 L1709.0 574.8 L1713.5 567.1 L1718.0 579.4 L1722.5 580.8 L1723.5 577.5" fill="none" stroke="#00f" stroke-width="7" stroke-linejoin="miter" stroke-miterlimit="4"/>
<path d="M497.0 836.0 L498.0 700.0 L499.5 450.0 L500.8 370.0 L503.0 345.0 L505.0 326.4 L509.5 312.5 L514.0 307.3 L518.5 306.8 L523.0 301.7 L527.5 298.6 L532.0 293.0 L536.5 281.6 L541.0 279.7 L545.5 265.9 L550.0 266.4 L554.5 257.7 L559.0 250.6 L563.5 241.9 L568.0 236.5 L572.5 222.3 L577.0 208.4 L581.5 206.3 L586.0 200.6 L590.5 189.8 L595.0 187.7 L599.5 185.0 L604.0 177.3 L608.5 182.8 L613.0 161.6 L617.5 170.0 L622.0 166.0 L626.5 158.0 L631.0 156.3 L635.5 145.8 L640.0 165.3 L644.5 151.0 L649.0 144.7 L653.5 146.0 L658.0 144.2 L662.5 139.3 L667.0 140.2 L671.5 142.9 L676.0 148.7 L680.5 147.5 L685.0 149.3 L689.5 159.3 L694.0 157.4 L698.5 156.9 L703.0 143.5 L707.5 158.0 L712.0 166.4 L716.5 167.5 L721.0 173.3 L725.5 178.2 L730.0 180.1 L734.5 170.4 L739.0 170.8 L743.5 173.7 L748.0 189.0 L752.5 197.0 L757.0 197.3 L761.5 197.6 L766.0 210.7 L770.5 223.0 L775.0 230.5 L779.5 251.4 L784.0 280.1 L788.5 302.7 L793.0 316.9 L797.5 322.8 L802.0 314.7 L806.5 312.4 L811.0 309.4 L815.5 313.1 L820.0 311.3 L824.5 322.2 L829.0 317.3 L833.5 325.2 L838.0 321.5 L842.5 326.0 L847.0 318.5 L851.5 317.4 L856.0 324.3 L860.5 315.1 L865.0 320.7 L869.5 318.9 L874.0 311.5 L878.5 314.0 L883.0 308.9 L887.5 313.8 L892.0 313.5 L896.5 308.2 L901.0 315.0 L905.5 306.6 L910.0 307.2 L914.5 314.5 L919.0 307.3 L923.5 313.1 L928.0 303.1 L932.5 310.0 L937.0 308.8 L941.5 302.0 L946.0 298.7 L950.5 306.5 L955.0 300.2 L959.5 300.7 L964.0 304.3 L968.5 288.5 L973.0 302.3 L977.5 302.8 L982.0 305.9 L986.5 297.8 L991.0 307.0 L995.5 299.8 L1000.0 295.9 L1004.5 304.2 L1009.0 297.5 L1013.5 303.2 L1018.0 297.2 L1022.5 299.9 L1027.0 305.9 L1031.5 298.9 L1036.0 297.5 L1040.5 308.5 L1045.0 299.6 L1049.5 308.0 L1054.0 299.4 L1058.5 298.1 L1063.0 307.8 L1067.5 300.4 L1072.0 307.8 L1076.5 302.3 L1081.0 310.2 L1085.5 311.3 L1090.0 311.0 L1094.5 300.3 L1099.0 311.2 L1103.5 309.7 L1108.0 303.3 L1112.5 310.9 L1117.0 303.5 L1121.5 307.3 L1126.0 305.5 L1130.5 314.9 L1135.0 315.7 L1139.5 314.4 L1144.0 305.0 L1148.5 311.2 L1153.0 296.8 L1157.5 311.2 L1162.0 304.0 L1166.5 310.5 L1171.0 303.4 L1175.5 308.5 L1180.0 305.8 L1184.5 298.5 L1189.0 309.9 L1193.5 302.4 L1198.0 311.9 L1202.5 305.2 L1207.0 302.0 L1211.5 301.2 L1216.0 308.4 L1220.5 310.4 L1225.0 308.1 L1229.5 304.4 L1234.0 303.6 L1238.5 309.0 L1243.0 304.8 L1247.5 311.9 L1252.0 293.0 L1256.5 308.9 L1261.0 307.7 L1265.5 301.2 L1270.0 306.9 L1274.5 309.8 L1279.0 302.0 L1283.5 307.7 L1288.0 295.4 L1292.5 303.2 L1297.0 310.4 L1301.5 310.2 L1306.0 307.7 L1310.5 305.1 L1315.0 309.2 L1319.5 302.6 L1324.0 297.3 L1328.5 307.9 L1333.0 302.6 L1337.5 307.9 L1342.0 302.4 L1346.5 308.7 L1351.0 300.4 L1355.5 308.0 L1360.0 307.8 L1364.5 308.8 L1369.0 306.7 L1373.5 301.6 L1378.0 308.1 L1382.5 310.1 L1387.0 303.6 L1391.5 315.9 L1396.0 304.8 L1400.5 308.7 L1405.0 310.8 L1409.5 303.8 L1414.0 308.2 L1418.5 308.8 L1423.0 302.0 L1427.5 309.0 L1432.0 300.1 L1436.5 307.0 L1441.0 303.9 L1445.5 307.5 L1450.0 304.2 L1454.5 309.4 L1459.0 303.3 L1463.5 303.7 L1468.0 310.8 L1472.5 310.2 L1477.0 309.9 L1481.5 307.3 L1486.0 300.9 L1490.5 309.9 L1495.0 308.6 L1499.5 299.1 L1504.0 305.7 L1508.5 300.1 L1513.0 299.4 L1517.5 301.5 L1522.0 308.7 L1526.5 309.6 L1531.0 308.3 L1535.5 300.9 L1540.0 303.3 L1544.5 309.5 L1549.0 302.9 L1553.5 314.5 L1558.0 302.3 L1562.5 304.1 L1567.0 309.2 L1571.5 309.7 L1576.0 310.3 L1580.5 303.4 L1585.0 305.3 L1589.5 310.2 L1594.0 309.5 L1598.5 303.6 L1603.0 309.0 L1607.5 318.3 L1612.0 306.5 L1616.5 304.8 L1621.0 304.9 L1625.5 312.2 L1630.0 305.9 L1634.5 312.4 L1639.0 298.7 L1643.5 310.8 L1648.0 311.8 L1652.5 306.7 L1657.0 313.6 L1661.5 313.4 L1666.0 307.2 L1670.5 312.0 L1675.0 296.3 L1679.5 311.7 L1684.0 305.4 L1688.5 304.0 L1693.0 311.3 L1697.5 306.5 L1702.0 312.3 L1706.5 317.3 L1711.0 306.5 L1715.5 314.6 L1720.0 308.4 L1723.5 313.7" fill="none" stroke="#000" stroke-width="7" stroke-linejoin="miter" stroke-miterlimit="4"/>
<g fill="#000" shape-rendering="crispEdges"><rect x="494" y="42" width="1232" height="4"/><rect x="494" y="1042" width="1232" height="4"/><rect x="494" y="42" width="4" height="1004"/><rect x="1723" y="42" width="3" height="1004"/><rect x="648" y="46" width="3" height="15"/><rect x="648" y="1027" width="3" height="15"/><rect x="801" y="46" width="4" height="15"/><rect x="801" y="1027" width="4" height="15"/><rect x="955" y="46" width="3" height="15"/><rect x="955" y="1027" width="3" height="15"/><rect x="1108" y="46" width="4" height="15"/><rect x="1108" y="1027" width="4" height="15"/><rect x="1262" y="46" width="4" height="15"/><rect x="1262" y="1027" width="4" height="15"/><rect x="1416" y="46" width="3" height="15"/><rect x="1416" y="1027" width="3" height="15"/><rect x="1569" y="46" width="4" height="15"/><rect x="1569" y="1027" width="4" height="15"/><rect x="498" y="209" width="15" height="3"/><rect x="1708" y="209" width="15" height="3"/><rect x="498" y="376" width="15" height="3"/><rect x="1708" y="376" width="15" height="3"/><rect x="498" y="542" width="15" height="3"/><rect x="1708" y="542" width="15" height="3"/><rect x="498" y="709" width="15" height="3"/><rect x="1708" y="709" width="15" height="3"/><rect x="498" y="876" width="15" height="3"/><rect x="1708" y="876" width="15" height="3"/></g>
<g font-family="Liberation Sans, Arial, Helvetica, sans-serif" font-size="73" fill="#000">
<text x="450.5" y="70" text-anchor="end"><tspan dy="6">−</tspan><tspan dy="-6">30,000</tspan></text>
<text x="450.5" y="235.5" text-anchor="end"><tspan dy="6">−</tspan><tspan dy="-6">45,000</tspan></text>
<text x="450.5" y="403" text-anchor="end"><tspan dy="6">−</tspan><tspan dy="-6">60,000</tspan></text>
<text x="450.5" y="568.8" text-anchor="end"><tspan dy="6">−</tspan><tspan dy="-6">75,000</tspan></text>
<text x="450.5" y="735.2" text-anchor="end"><tspan dy="6">−</tspan><tspan dy="-6">90,000</tspan></text>
<text x="450.5" y="902.3" text-anchor="end"><tspan dy="6">−</tspan><tspan dy="-6">105,000</tspan></text>
<text x="450.5" y="1069.3" text-anchor="end"><tspan dy="6">−</tspan><tspan dy="-6">120,000</tspan></text>
<text x="506" y="1142" text-anchor="middle">0</text>
<text x="660" y="1142" text-anchor="middle">5</text>
<text x="815.7" y="1142" text-anchor="middle">10</text>
<text x="968.7" y="1142" text-anchor="middle">15</text>
<text x="1120.8" y="1142" text-anchor="middle">20</text>
<text x="1273.7" y="1142" text-anchor="middle">25</text>
<text x="1427.8" y="1142" text-anchor="middle">30</text>
<text x="1580.4" y="1142" text-anchor="middle">35</text>
<text x="1733.8" y="1142" text-anchor="middle">40</text>
<text x="1108" y="1252" text-anchor="middle">simulation time (ps)</text>
<text transform="translate(95,544) rotate(-90)" text-anchor="middle">energy (cm<tspan font-size="58.4" dy="-32.3">−</tspan><tspan font-size="58.4" dy="-4.7">1</tspan><tspan dy="37">)</tspan></text>
<text transform="translate(750.6,658.7) scale(1,1.075)">M</text>
<text transform="translate(811.41,658.7) scale(1,0.766)" stroke="#000" stroke-width="0.8">=</text>
<text x="854.04" y="658.7">1 ,</text>
<text x="978.5" y="658.7">v</text>
<text x="1014.4" y="681.2" font-size="58.4">0</text>
<text transform="translate(1047.3,658.7) scale(1,0.766)" stroke="#000" stroke-width="0.8">=</text>
<text x="1089.93" y="658.7">129.1 m/s</text>
<text transform="translate(750.6,733) scale(1,1.075)">M</text>
<text transform="translate(811.41,733) scale(1,0.766)" stroke="#000" stroke-width="0.8">=</text>
<text x="854.04" y="733">5 ,</text>
<text x="978.5" y="733">v</text>
<text x="1014.4" y="755.5" font-size="58.4">0</text>
<text transform="translate(1047.3,733) scale(1,0.766)" stroke="#000" stroke-width="0.8">=</text>
<text x="1089.93" y="733">169.4 m/s</text>
<text transform="translate(750.6,806) scale(1,1.075)">M</text>
<text transform="translate(811.41,806) scale(1,0.766)" stroke="#000" stroke-width="0.8">=</text>
<text x="854.04" y="806">10,</text>
<text x="978.5" y="806">v</text>
<text x="1014.4" y="828.5" font-size="58.4">0</text>
<text transform="translate(1047.3,806) scale(1,0.766)" stroke="#000" stroke-width="0.8">=</text>
<text x="1089.93" y="806">239.8 m/s</text>
</g>
<rect x="1456" y="638.2" width="194" height="6" fill="#f00"/>
<rect x="1456" y="712.5" width="194" height="6" fill="#00f"/>
<rect x="1456" y="785.5" width="194" height="6" fill="#000"/>
</svg>
</body></html>
